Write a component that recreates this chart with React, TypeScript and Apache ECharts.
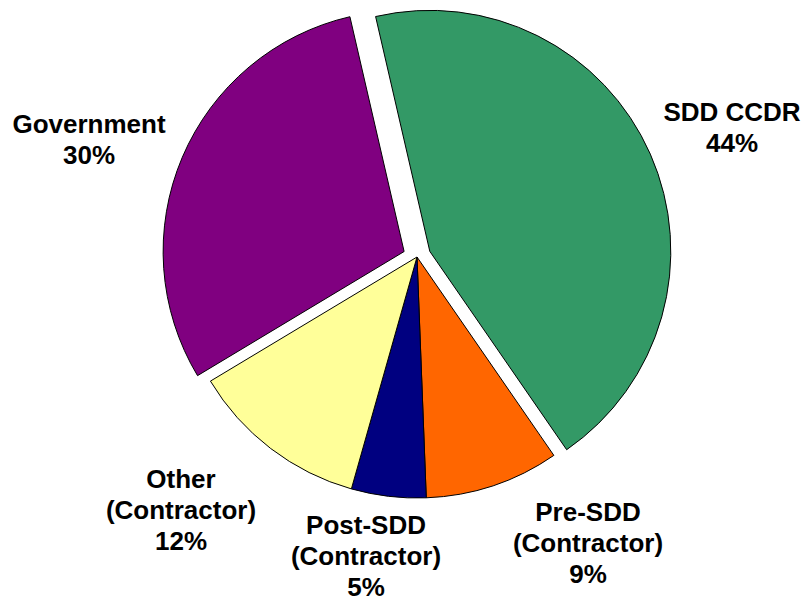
import React, { useEffect, useRef } from "react";
import * as echarts from "echarts";

const categories = [
  "SDD CCDR",
  "Pre-SDD\n(Contractor)",
  "Post-SDD\n(Contractor)",
  "Other\n(Contractor)",
  "Government",
];
const values = [44, 9, 5, 12, 30];
const exploded = [true, false, false, false, true];
const colors = ["#339966", "#FF6600", "#000080", "#FFFF99", "#800080"];
const labelPos: [number, number][] = [
  [732, 127],
  [588, 543],
  [366, 556],
  [181, 510],
  [89, 139],
];

export default function App() {
  const ref = useRef<HTMLDivElement>(null);
  useEffect(() => {
    if (!ref.current) return;
    const chart = echarts.init(ref.current, undefined, { renderer: "svg" });
    const total = values.reduce((a, b) => a + b, 0);
    chart.setOption({
      animation: false,
      backgroundColor: "#ffffff",
      graphic: categories.map((name, i) => ({
        type: "text",
        x: labelPos[i][0],
        y: labelPos[i][1],
        silent: true,
        style: {
          text: `${name}\n${Math.round((values[i] / total) * 100)}%`,
          fill: "#000000",
          fontFamily: 'Arial, "Liberation Sans", sans-serif',
          fontWeight: "bold",
          fontSize: 26,
          lineHeight: 31,
          align: "center",
          verticalAlign: "middle",
        },
      })),
      series: [
        {
          type: "pie",
          center: [417, 257],
          radius: 241,
          startAngle: 103,
          clockwise: true,
          selectedMode: "multiple",
          selectedOffset: 14,
          emphasis: { disabled: true },
          itemStyle: { borderColor: "#000000", borderWidth: 1 },
          select: { itemStyle: { borderColor: "#000000", borderWidth: 1 } },
          label: { show: false },
          labelLine: { show: false },
          data: categories.map((name, i) => ({
            name,
            value: values[i],
            selected: exploded[i],
            itemStyle: { color: colors[i] },
            select: { itemStyle: { color: colors[i] } },
          })),
        },
      ],
    });
    return () => chart.dispose();
  }, []);
  return (
    <div
      ref={ref}
      style={{ position: "fixed", left: 0, top: 0, width: 808, height: 603 }}
    />
  );
}
